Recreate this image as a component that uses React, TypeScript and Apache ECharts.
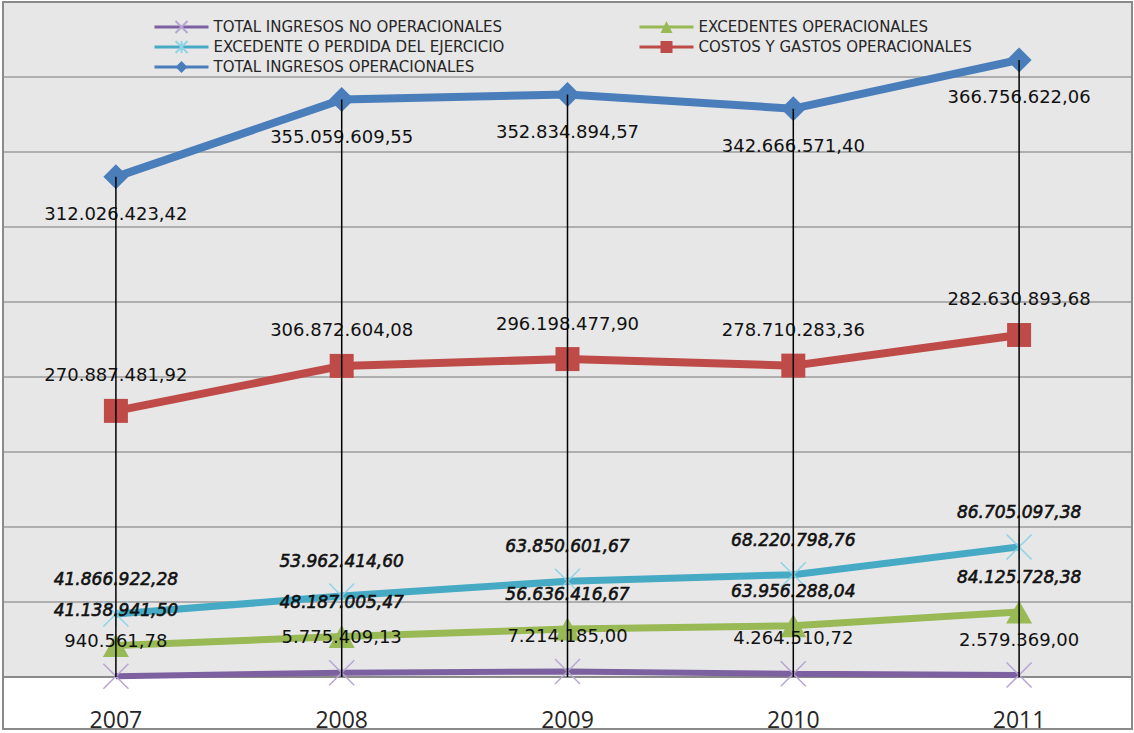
import React, { useEffect, useRef } from "react";
import * as echarts from "echarts";

const categories = ["2007", "2008", "2009", "2010", "2011"];
const seriesNames = [
  "TOTAL INGRESOS NO OPERACIONALES",
  "EXCEDENTES OPERACIONALES",
  "EXCEDENTE O PERDIDA DEL EJERCICIO",
  "COSTOS Y GASTOS OPERACIONALES",
  "TOTAL INGRESOS OPERACIONALES",
];
const ingresosNoOperacionales = [940561.78, 5775409.13, 7214185.0, 4264510.72, 2579369.0];
const excedentesOperacionales = [41138941.5, 48187005.47, 56636416.67, 63956288.04, 84125728.38];
const excedenteEjercicio = [41866922.28, 53962414.6, 63850601.67, 68220798.76, 86705097.38];
const costosGastos = [270887481.92, 306872604.08, 296198477.9, 278710283.36, 282630893.68];
const ingresosOperacionales = [312026423.42, 355059609.55, 352834894.57, 342666571.4, 366756622.06];

const yMin = 0;
const yMax = 900000000;
const yInterval = 100000000;

function fmt(v: number): string {
  const [i, d] = v.toFixed(2).split(".");
  return i.replace(/\B(?=(\d{3})+(?!\d))/g, ".") + "," + d;
}

const X_PATH = "path://M0,0L24,24M24,0L0,24";
const STAR_PATH = "path://M0,0L24,24M24,0L0,24M12,0L12,24";

export default function App() {
  const ref = useRef<HTMLDivElement>(null);
  useEffect(() => {
    if (!ref.current) return;
    const chart = echarts.init(ref.current, null, { renderer: "svg" });
    const allSeries = [ingresosNoOperacionales, excedentesOperacionales, excedenteEjercicio, costosGastos, ingresosOperacionales];
    const totals = categories.map((_, i) => allSeries.reduce((s, arr) => s + arr[i], 0));

    const normalLabel = (dy: number) => ({
      show: true,
      position: "inside",
      offset: [0, dy],
      formatter: (p: any) => fmt(p.value),
      fontFamily: "DejaVu Sans",
      fontSize: 18,
      color: "#111",
    });
    const italicLabel = (dy: number) => ({
      show: true,
      position: "inside",
      offset: [0, dy],
      formatter: (p: any) => fmt(p.value),
      fontFamily: "DejaVu Sans",
      fontStyle: "italic",
      fontSize: 17,
      color: "#111",
      textBorderColor: "#111",
      textBorderWidth: 0.6,
    });

    const series: any[] = [
      {
        name: seriesNames[0],
        type: "line",
        stack: "total",
        z: 7,
        data: ingresosNoOperacionales,
        symbol: X_PATH,
        symbolSize: 25,
        lineStyle: { color: "#7d60a0", width: 6 },
        itemStyle: { color: "rgba(0,0,0,0)", borderColor: "#b7a5d3", borderWidth: 1.5 },
        label: normalLabel(-36),
      },
      {
        name: seriesNames[1],
        type: "line",
        stack: "total",
        z: 6,
        data: excedentesOperacionales,
        symbol: "triangle",
        symbolSize: [26, 23],
        lineStyle: { color: "#98b954", width: 7 },
        itemStyle: { color: "#98b954" },
        label: italicLabel(-35),
      },
      {
        name: seriesNames[2],
        type: "line",
        stack: "total",
        z: 5,
        data: excedenteEjercicio,
        symbol: STAR_PATH,
        symbolSize: 25,
        lineStyle: { color: "#46aac5", width: 7 },
        itemStyle: { color: "rgba(0,0,0,0)", borderColor: "#8fd3e6", borderWidth: 1.5 },
        label: italicLabel(-35),
      },
      {
        name: seriesNames[3],
        type: "line",
        stack: "total",
        z: 4,
        data: costosGastos,
        symbol: "rect",
        symbolSize: 24,
        lineStyle: { color: "#be4b48", width: 8 },
        itemStyle: { color: "#be4b48" },
        label: normalLabel(-36),
      },
      {
        name: seriesNames[4],
        type: "line",
        stack: "total",
        z: 3,
        data: ingresosOperacionales,
        symbol: "diamond",
        symbolSize: 25,
        lineStyle: { color: "#4a7ebb", width: 8 },
        itemStyle: { color: "#4a7ebb" },
        label: normalLabel(37),
      },
      {
        type: "custom",
        z: 10,
        silent: true,
        data: categories.map((_, i) => [i, totals[i]]),
        renderItem: (_params: any, api: any) => {
          const top = api.coord([api.value(0), api.value(1)]);
          const bottom = api.coord([api.value(0), 0]);
          return {
            type: "line",
            shape: { x1: top[0], y1: top[1], x2: bottom[0], y2: bottom[1] },
            style: { stroke: "#000", lineWidth: 1.5 },
          };
        },
      },
    ];

    const legendCommon = {
      orient: "vertical",
      top: 19.5,
      padding: 0,
      itemWidth: 54,
      itemHeight: 15,
      itemGap: 5,
      lineStyle: { width: 3 },
      textStyle: { fontFamily: "DejaVu Sans", fontSize: 15, color: "#262626" },
      selectedMode: false,
    };

    chart.setOption({
      animation: false,
      backgroundColor: "#ffffff",
      grid: {
        left: 3,
        right: 2,
        top: 2,
        bottom: 56,
        show: true,
        backgroundColor: "#e7e7e7",
        borderWidth: 0,
      },
      legend: [
        { ...legendCommon, left: 153, data: [seriesNames[0], seriesNames[2], seriesNames[4]] },
        { ...legendCommon, left: 638, data: [seriesNames[1], seriesNames[3]] },
      ],
      xAxis: {
        type: "category",
        data: categories,
        boundaryGap: true,
        axisTick: { show: false },
        axisLine: { show: true, lineStyle: { color: "#8a8a8a", width: 2 } },
        axisLabel: { fontFamily: "Open Sans", fontSize: 23, color: "#262626", margin: 30 },
        z: 1,
      },
      yAxis: {
        type: "value",
        min: yMin,
        max: yMax,
        interval: yInterval,
        axisLabel: { show: false },
        axisLine: { show: false },
        axisTick: { show: false },
        splitLine: { show: true, lineStyle: { color: "#9c9c9c", width: 1.5 } },
      },
      graphic: [
        {
          type: "rect",
          z: 100,
          silent: true,
          shape: { x: 3, y: 2, width: 1129, height: 727 },
          style: { fill: "none", stroke: "#8a8a8a", lineWidth: 2 },
        },
      ],
      series,
    });
    return () => chart.dispose();
  }, []);
  return (
    <div
      ref={ref}
      style={{ position: "absolute", left: 0, top: 0, width: 1134, height: 733 }}
    />
  );
}
